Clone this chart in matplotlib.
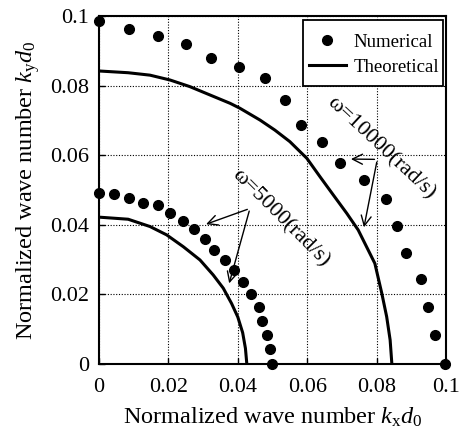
import matplotlib
matplotlib.use("Agg")
import matplotlib.pyplot as plt
from matplotlib.patches import Rectangle

plt.rcParams['font.family'] = ['Liberation Serif', 'DejaVu Serif']
plt.rcParams['mathtext.fontset'] = 'custom'
plt.rcParams['mathtext.rm'] = 'Liberation Serif'
plt.rcParams['mathtext.it'] = 'Liberation Serif:italic'

# Numerical, omega = 10000 rad/s
num10_x = [0.0, 0.0086, 0.0169, 0.0250, 0.0324, 0.0403, 0.0477, 0.0536, 0.0581, 0.0644,
           0.0695, 0.0764, 0.0826, 0.0860, 0.0884, 0.0927, 0.0949, 0.0969, 0.0997]
num10_y = [0.0987, 0.0962, 0.0942, 0.0920, 0.0879, 0.0854, 0.0821, 0.0759, 0.0688, 0.0639,
           0.0577, 0.0530, 0.0473, 0.0397, 0.0318, 0.0245, 0.0165, 0.0083, 0.0]
# Numerical, omega = 5000 rad/s
num5_x = [0.0, 0.0043, 0.0086, 0.0126, 0.0169, 0.0205, 0.0241, 0.0274, 0.0305, 0.0331,
          0.0363, 0.0390, 0.0414, 0.0437, 0.0461, 0.0469, 0.0483, 0.0493, 0.0498]
num5_y = [0.0490, 0.0489, 0.0477, 0.0464, 0.0456, 0.0433, 0.0412, 0.0387, 0.0358, 0.0328,
          0.0299, 0.0270, 0.0236, 0.0201, 0.0165, 0.0124, 0.0083, 0.0042, 0.0]
# Theoretical, omega = 10000 rad/s
th10_x = [0.0, 0.0084, 0.0147, 0.0205, 0.0262, 0.0320, 0.0378, 0.0406, 0.0464, 0.0507,
          0.0550, 0.0599, 0.0637, 0.0675, 0.0714, 0.0747, 0.0795, 0.0815, 0.0829, 0.0839, 0.0844]
th10_y = [0.0842, 0.0837, 0.0830, 0.0816, 0.0797, 0.0773, 0.0749, 0.0735, 0.0701, 0.0672,
          0.0639, 0.0591, 0.0538, 0.0486, 0.0433, 0.0385, 0.0289, 0.0203, 0.0136, 0.0069, 0.0]
# Theoretical, omega = 5000 rad/s
th5_x = [0.0, 0.0084, 0.0147, 0.0195, 0.0243, 0.0291, 0.0329, 0.0358, 0.0382, 0.0400,
         0.0414, 0.0422, 0.0426]
th5_y = [0.0422, 0.0416, 0.0395, 0.0371, 0.0337, 0.0299, 0.0256, 0.0218, 0.0174, 0.0135,
         0.0090, 0.0045, 0.0]

ticks = [0, 0.02, 0.04, 0.06, 0.08, 0.1]
tick_labels = ['0', '0.02', '0.04', '0.06', '0.08', '0.1']

fig = plt.figure(figsize=(4.64, 4.4), dpi=100)
ax = fig.add_axes([99/464, 1-364/440, 347/464, 348/440])

ax.plot(num10_x, num10_y, 'o', color='black', ms=7, clip_on=False, zorder=5, label='Numerical')
ax.plot(num5_x, num5_y, 'o', color='black', ms=7, clip_on=False, zorder=5)
ax.plot(th10_x, th10_y, '-', color='black', lw=2.2, label='Theoretical', zorder=4)
ax.plot(th5_x, th5_y, '-', color='black', lw=2.2, zorder=4)

ax.set_xlim(0, 0.1)
ax.set_ylim(0, 0.1)
ax.set_xticks(ticks)
ax.set_xticklabels(tick_labels)
ax.set_yticks(ticks)
ax.set_yticklabels(tick_labels)
ax.tick_params(direction='in', length=4, width=1, labelsize=16, pad=7, colors='black')
ax.tick_params(axis='x', pad=10)
ax.grid(True, linestyle=(0, (1, 1.5)), color='black', linewidth=0.8)
for s in ax.spines.values():
    s.set_linewidth(1.5)

ax.set_xlabel(r'Normalized wave number $k_{\mathrm{x}}d_0$', fontsize=17.5, labelpad=6)
ax.set_ylabel(r'Normalized wave number $k_{\mathrm{y}}d_0$', fontsize=17.5, labelpad=6)

# legend box
ax.add_patch(Rectangle((0.588, 0.799), 0.403, 0.190, transform=ax.transAxes,
                       facecolor='white', edgecolor='black', lw=1.3, zorder=6))
leg = ax.legend(loc='center', bbox_to_anchor=(0.792, 0.889), fontsize=13.5, frameon=False,
                handlelength=2.0, handletextpad=0.4, borderpad=0.0, labelspacing=0.42)
leg.set_zorder(7)

# annotations
arrow = dict(arrowstyle='->', color='black', lw=1, mutation_scale=18)
ax.annotate('', xy=(0.0718, 0.0589), xytext=(0.0802, 0.0588), arrowprops=arrow)
ax.annotate('', xy=(0.0762, 0.0385), xytext=(0.0802, 0.0588), arrowprops=arrow)
ax.annotate('', xy=(0.0301, 0.0399), xytext=(0.0435, 0.0447), arrowprops=arrow)
ax.annotate('', xy=(0.0373, 0.0224), xytext=(0.0435, 0.0447), arrowprops=arrow)
ax.text(0.0813, 0.0621, 'ω=10000(rad/s)', rotation=-43, ha='center', va='center',
        fontsize=16, rotation_mode='anchor')
ax.text(0.0522, 0.0420, 'ω=5000(rad/s)', rotation=-45, ha='center', va='center',
        fontsize=16, rotation_mode='anchor')

fig.savefig('out.png', dpi=100)
